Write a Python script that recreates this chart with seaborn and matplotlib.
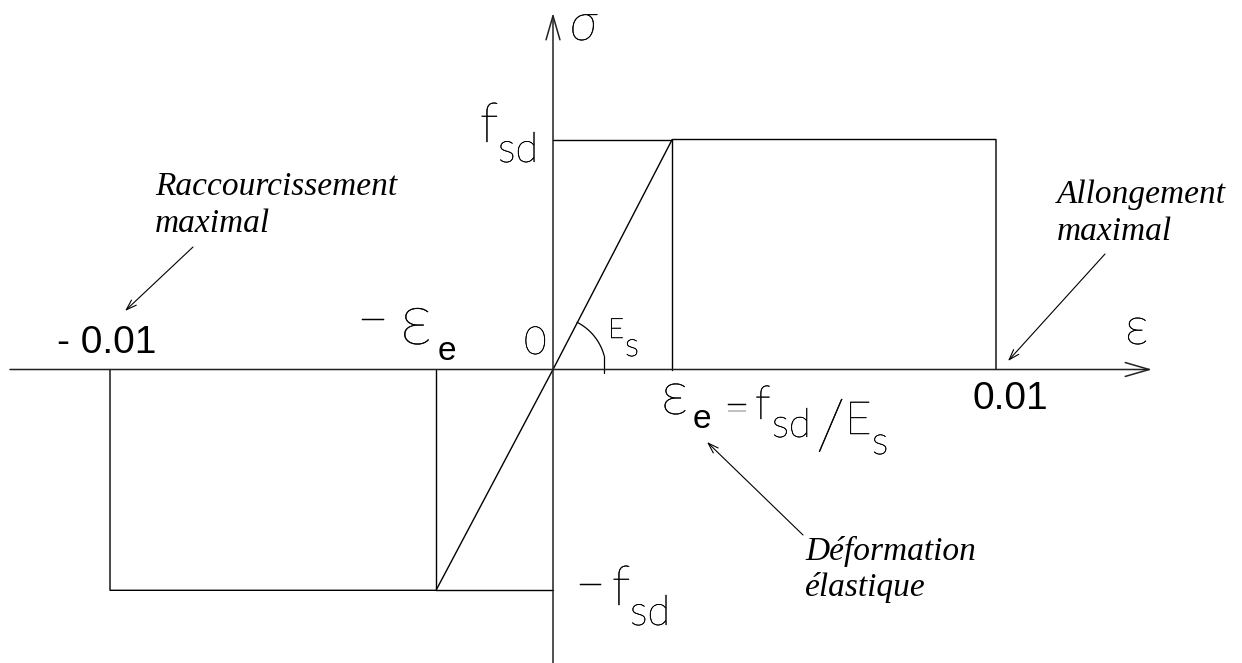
import numpy as np
import pandas as pd
import matplotlib
matplotlib.use("Agg")
import matplotlib.pyplot as plt
import matplotlib.patheffects as pe
import seaborn as sns

# Data: elastic - perfectly plastic steel law (sigma vs epsilon)
strain = [-0.01, -0.01, -0.00264, 0.0, 0.00269, 0.01, 0.01]
stress = [0.0, -0.96, -0.96, 0.0, 1.0, 1.0, 0.0]
strain_ticks = [-0.01, 0.01]
tick_labels = ["- 0.01", "0.01"]

eps_neg, eps_pos = strain[2], strain[4]
f_neg, f_pos = stress[2], stress[4]

# segments: the law itself + guide lines
segments = {
    "law": (strain, stress),
    "guide_v_pos": ([eps_pos, eps_pos], [0.0, f_pos]),
    "guide_h_pos": ([0.0, eps_pos], [f_pos, f_pos]),
    "guide_v_neg": ([eps_neg, eps_neg], [0.0, f_neg]),
    "guide_h_neg": ([eps_neg, 0.0], [f_neg, f_neg]),
}
rows = []
for name, (xs, ys) in segments.items():
    for i, (x, y) in enumerate(zip(xs, ys)):
        rows.append({"segment": name, "order": i, "strain": x, "stress": y})
df = pd.DataFrame(rows)

# pixel layout of the reference picture
W, H = 1242, 663
X0, Y0 = 553, 369.5
SX = 443 / 0.01
SY = 230


def to_data(px, py):
    return (px - X0) / SX, (Y0 - py) / SY


sns.set_theme(style="white")
fig = plt.figure(figsize=(W / 100, H / 100), dpi=100)
ax = fig.add_axes([0, 0, 1, 1])
ax.set_xlim(to_data(0, 0)[0], to_data(W, 0)[0])
ax.set_ylim(to_data(0, H)[1], to_data(0, 0)[1])
ax.axis("off")

sns.lineplot(data=df, x="strain", y="stress", units="segment", estimator=None,
             sort=False, color="black", lw=1.0, ax=ax, legend=False)

# axes with open arrow heads
axis_arrow = dict(arrowstyle="->,head_length=1.73,head_width=0.5", lw=1.1,
                  color="#222222", shrinkA=0, shrinkB=0, mutation_scale=10)
ax.annotate("", xy=to_data(1152, Y0), xytext=to_data(10, Y0), arrowprops=axis_arrow)
ax.annotate("", xy=to_data(X0, 13), xytext=to_data(X0, H), arrowprops=axis_arrow)

# modulus arc (circle in pixel space) + small tick down to the axis
r = 53
ang = np.radians(np.linspace(15, 63, 30))
arc_x = (r * np.cos(ang)) / SX
arc_y = (r * np.sin(ang)) / SY
ax.plot(arc_x, arc_y, color="black", lw=0.9)
ax.plot([arc_x[0], arc_x[0]], [arc_y[0], to_data(0, 373)[1]], color="black", lw=0.9)

# thin "CAD" lettering, darkened a little with a hairline stroke
cad = dict(family=["Lato", "DejaVu Sans"], fontweight="light", color="black",
           ha="left", va="baseline",
           path_effects=[pe.withStroke(linewidth=0.35, foreground="black")])
arial = dict(family="Liberation Sans", color="black", ha="left", va="baseline")
serif = dict(family="Liberation Serif", style="italic", color="black",
             ha="left", va="baseline", fontsize=24)


def txt(px, py, s, props, **kw):
    x, y = to_data(px, py)
    ax.text(x, y, s, **{**props, **kw})


# axis names
txt(570, 40, "σ", cad, fontsize=38, style="italic")
txt(1125, 344, "ε", cad, fontsize=38)
txt(524, 354, "0", cad, fontsize=28)

# strain tick labels
for v, lab in zip(strain_ticks, tick_labels):
    px = X0 + v * SX
    if v < 0:
        txt(px - 53, 353, lab, arial, fontsize=28)
    else:
        txt(px - 24, 409, lab, arial, fontsize=28)

# -eps_e
txt(357, 338, "−", cad, fontsize=40)
txt(400, 344, "ε", cad, fontsize=52)
txt(438, 360, "e", arial, fontsize=24)

# E_s near the arc
txt(608, 338, "E", cad, fontsize=20)
txt(625, 356, "s", cad, fontsize=24)

# f_sd
txt(480, 142, "f", cad, fontsize=40)
txt(498, 162, "sd", cad, fontsize=30)

# -f_sd
txt(576, 601, "−", cad, fontsize=36)
txt(612, 605, "f", cad, fontsize=40)
txt(630, 625, "sd", cad, fontsize=30)

# eps_e = f_sd / E_s
txt(661, 414, "ε", cad, fontsize=44)
txt(693, 428, "e", arial, fontsize=24)
txt(724, 423, "=", cad, fontsize=32)
txt(755, 419, "f", cad, fontsize=34)
txt(772, 437, "sd", cad, fontsize=29)
txt(816, 449, "/", cad, fontsize=50)
txt(845, 434, "E", cad, fontsize=33)
txt(872, 454, "s", cad, fontsize=28)

# italic comments with arrows
txt(155, 195, "Raccourcissement", serif)
txt(155, 232, "maximal", serif)
txt(1057, 203, "Allongement", serif)
txt(1057, 240, "maximal", serif)
txt(805, 560, "Déformation", serif)
txt(805, 596, "élastique", serif)

note_arrow = dict(arrowstyle="->,head_length=0.75,head_width=0.25", lw=0.8,
                  color="black", shrinkA=0, shrinkB=0, mutation_scale=10)
ax.annotate("", xy=to_data(125, 311), xytext=to_data(193, 247), arrowprops=note_arrow)
ax.annotate("", xy=to_data(1008, 361), xytext=to_data(1105, 254), arrowprops=note_arrow)
ax.annotate("", xy=to_data(707, 442), xytext=to_data(803, 535), arrowprops=note_arrow)

fig.savefig("out.png", dpi=100, facecolor="white")
